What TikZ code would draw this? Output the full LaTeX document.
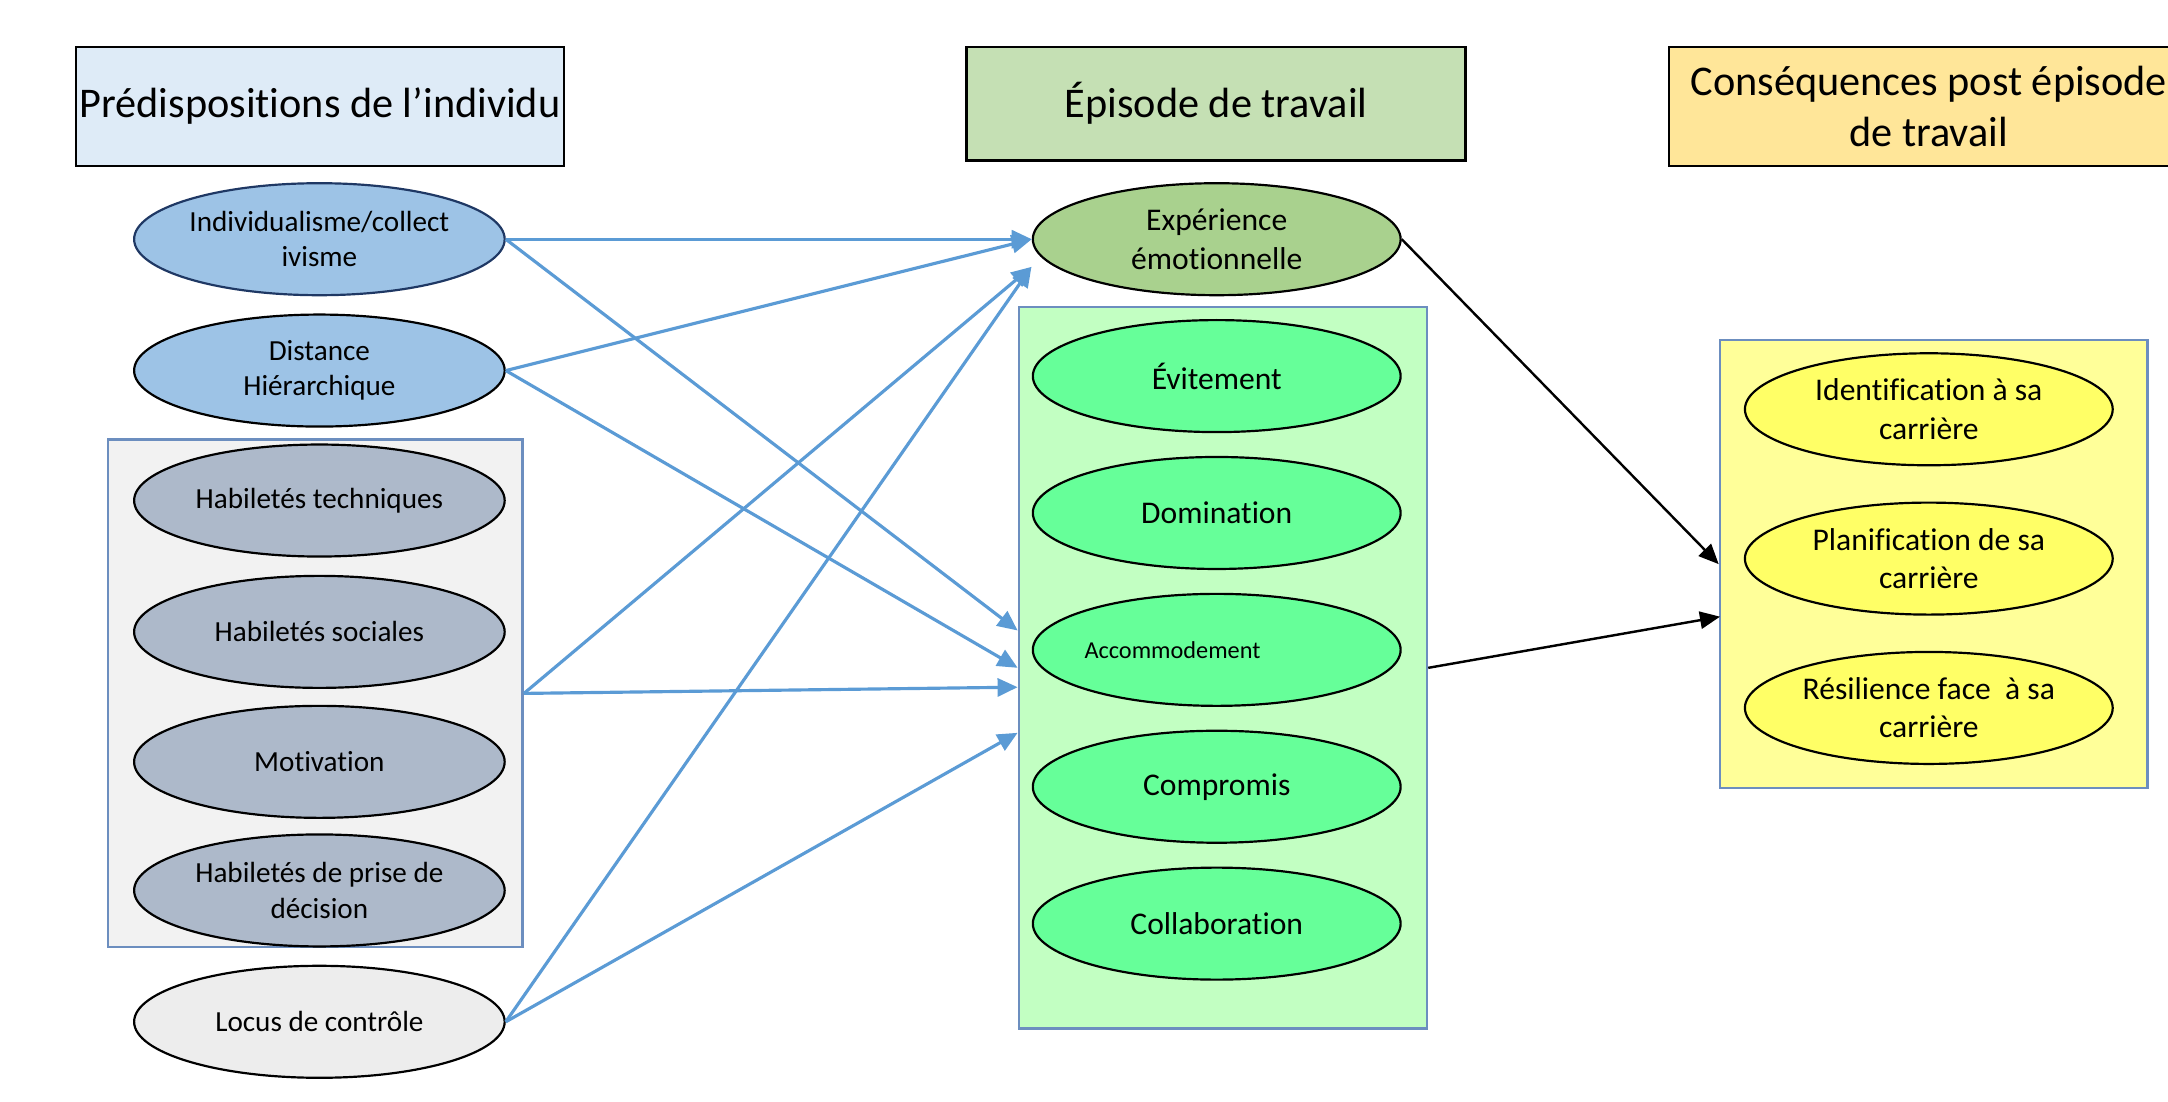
\documentclass[tikz,border=0pt]{standalone}
\usepackage{fontspec}
\setmainfont{Carlito}[Ligatures=NoCommon]
\usetikzlibrary{arrows.meta,shapes.geometric,positioning}
\definecolor{bleutitre}{HTML}{DEEBF7}
\definecolor{verttitre}{HTML}{C5E0B4}
\definecolor{ortitre}{HTML}{FFE699}
\definecolor{bleubulle}{HTML}{9DC3E6}
\definecolor{grisbulle}{HTML}{ADB9CA}
\definecolor{grisclair}{HTML}{EDEDED}
\definecolor{grisfond}{HTML}{F2F2F2}
\definecolor{vertexp}{HTML}{A9D18E}
\definecolor{vertfond}{HTML}{C2FFC2}
\definecolor{vertbulle}{HTML}{66FF99}
\definecolor{jaunefond}{HTML}{FFFF99}
\definecolor{jaunebulle}{HTML}{FFFF66}
\definecolor{cadrebleu}{HTML}{6C8EBF}
\definecolor{flechebleu}{HTML}{5B9BD5}
\definecolor{marine}{HTML}{1F3864}

\begin{document}
\begin{tikzpicture}[x=0.2mm,y=-0.2mm,
    titre/.style={draw,line width=1pt,inner sep=0pt,align=center,font=\fontsize{17.4}{21}\selectfont},
    bulle/.style={ellipse,draw,line width=0.9pt,minimum width=53.6mm,minimum height=16.2mm,inner sep=-4mm,align=center,font=\fontsize{12}{14.5}\selectfont},
    vert/.style={bulle,minimum width=53.2mm,font=\fontsize{13}{16}\selectfont},
    cadre/.style={draw=cadrebleu,line width=1.1pt,inner sep=0pt},
    fleche/.style={draw=flechebleu,line width=1.3pt,-{Triangle[length=2.9mm,width=2.6mm]}},
    noire/.style={line width=1pt,-{Triangle[length=2.9mm,width=2.5mm]}}]
    \useasboundingbox(0,0)rectangle(1568,796.3);
    \clip(0,0)rectangle(1568,796.3);
    \node[titre,fill=bleutitre,minimum width=70.6mm,minimum height=17.2mm](t1)at(231.5,77){Prédispositions de l’individu};
    \node[titre,fill=verttitre,minimum width=72.2mm,minimum height=16.4mm](t2)at(879.5,75){Épisode de travail};
    \node[titre,fill=ortitre,minimum width=75.2mm,minimum height=17.2mm](t3)at(1395,77){Conséquences post épisode\\de travail};
    \node[cadre,fill=grisfond,minimum width=60mm,minimum height=73.4mm](grp)at(228,501.5){};
    \node[cadre,fill=vertfond,minimum width=59mm,minimum height=104.4mm](mid)at(884.5,483){};
    \node[cadre,fill=jaunefond,minimum width=61.8mm,minimum height=64.8mm](cons)at(1398.5,408){};
    \node[bulle,fill=bleubulle,draw=marine](indiv)at(231,173){Individualisme/collect\\ivisme};
    \node[bulle,fill=bleubulle](dist)at(231,268){Distance\\Hiérarchique};
    \foreach \n/\y/\t in {tech/362/Habiletés techniques,soc/457/Habiletés sociales,motiv/551/Motivation,dec/644/{Habiletés de prise de\\décision}}
        \node[bulle,fill=grisbulle](\n)at(231,\y){\t};
    \node[bulle,fill=grisclair](locus)at(231,739){Locus de contrôle};
    \node[vert,fill=vertexp](exp)at(880,173){Expérience\\émotionnelle};
    \foreach \n/\y/\t in {evit/272/Évitement,domin/371/Domination,comp/569/Compromis,collab/668/Collaboration}
        \node[vert,fill=vertbulle](\n)at(880,\y){\t};
    \node[vert,fill=vertbulle,font=\fontsize{10}{12}\selectfont](accom)at(880,470){Accommodement\hspace*{12.8mm}};
    \foreach \n/\y/\t in {ident/296/{Identification à sa\\carrière},planif/404/{Planification de sa\\carrière},resil/512/{Résilience face\ \ à sa\\carrière}}
        \node[vert,fill=jaunebulle,font=\fontsize{13}{15.8}\selectfont](\n)at(1395,\y){\t};
    \coordinate(p1)at(746,193);
    \coordinate(m1)at(736,456);
    \coordinate(m2)at(736,483);
    \coordinate(m3)at(736,497);
    \coordinate(m4)at(736,530);
    \coordinate(r2)at(1244,446);
    \draw[fleche](indiv.east)--(exp.west);
    \draw[fleche](indiv.east)--(m1);
    \draw[fleche](dist.east)--(exp.west);
    \draw[fleche](dist.east)--(m2);
    \draw[fleche](grp.east)--(p1);
    \draw[fleche](grp.east)--(m3);
    \draw[fleche](locus.east)--(p1);
    \draw[fleche](locus.east)--(m4);
    \draw[noire](exp.east)--(cons.west);
    \draw[noire](mid.east)--(r2);
\end{tikzpicture}
\end{document}
